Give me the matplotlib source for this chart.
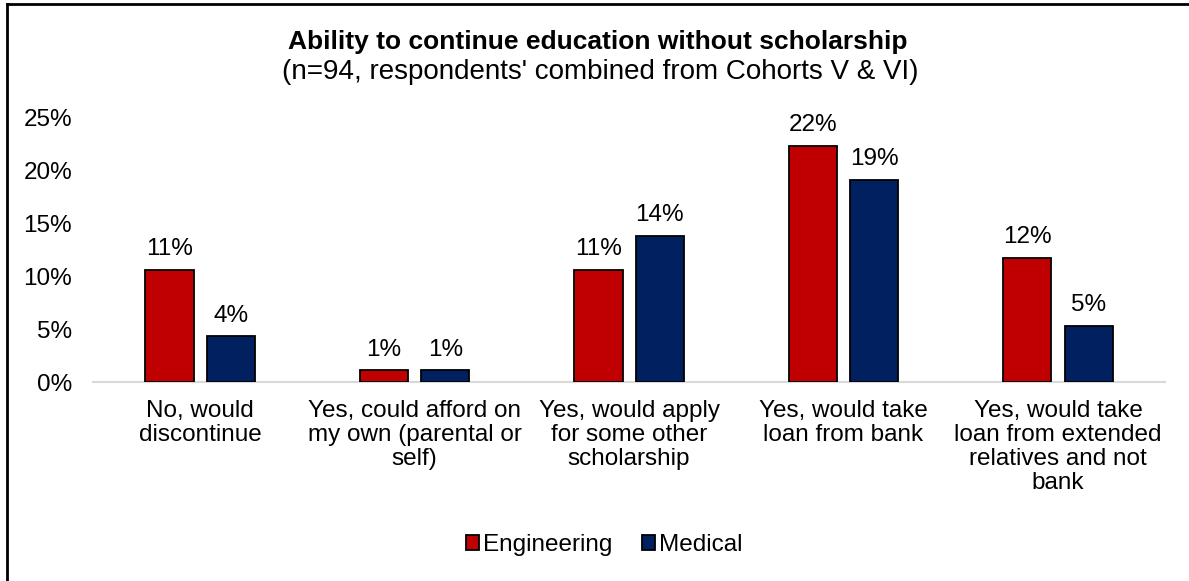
import numpy as np
import matplotlib
matplotlib.use("Agg")
import matplotlib.pyplot as plt
from matplotlib.lines import Line2D
from matplotlib.patches import Patch

plt.rcParams['font.family'] = ['Liberation Sans', 'DejaVu Sans']

# responses by stream, percent of respondents
categories = ["No, would\ndiscontinue",
              "Yes, could afford on\nmy own (parental or\nself)",
              "Yes, would apply\nfor some other\nscholarship",
              "Yes, would take\nloan from bank",
              "Yes, would take\nloan from extended\nrelatives and not\nbank"]
engineering = [10.6, 1.1, 10.6, 22.3, 11.7]
medical = [4.3, 1.1, 13.8, 19.1, 5.3]
series_names = ["Engineering", "Medical"]
colors = ["#C00000", "#002060"]

fig = plt.figure(figsize=(11.89, 5.81), dpi=100)
ax = fig.add_axes([0.0782, 0.3425, 0.9018, 0.456])

x = np.arange(len(categories))
w = 0.225
off = 0.143
for vals, dx, c in [(engineering, -off, colors[0]), (medical, off, colors[1])]:
    bars = ax.bar(x + dx, vals, w, color=c, edgecolor="black", linewidth=1.3, zorder=3)
    for b, v in zip(bars, vals):
        ax.annotate("{:.0f}%".format(v), (b.get_x() + b.get_width() / 2, v),
                    xytext=(0, 7), textcoords="offset points",
                    ha="center", va="bottom", fontsize=17.5)

ax.set_xlim(-0.5, len(categories) - 0.5)
ax.set_ylim(0, 25)
ax.set_yticks(range(0, 26, 5))
ax.set_yticklabels(["{}%".format(t) for t in range(0, 26, 5)], fontsize=17.5)
ax.set_xticks(x)
ax.set_xticklabels(categories, fontsize=17.5, linespacing=1.11, va="top")
ax.tick_params(axis="both", length=0)
ax.tick_params(axis="y", pad=15)
ax.tick_params(axis="x", pad=13)
for s in ["top", "right", "left"]:
    ax.spines[s].set_visible(False)
ax.spines["bottom"].set_color("#d9d9d9")
ax.spines["bottom"].set_linewidth(1.5)

fig.text(0.503, 0.928, "Ability to continue education without scholarship",
         ha="center", va="center", fontsize=19, fontweight="bold")
fig.text(0.505, 0.876, "(n=94, respondents' combined from Cohorts V & VI)",
         ha="center", va="center", fontsize=20)

handles = [Patch(facecolor=c, edgecolor="black", linewidth=1.3) for c in colors]
fig.legend(handles, series_names, loc="center", bbox_to_anchor=(0.508, 0.062),
           ncol=2, frameon=False, fontsize=17.5, handlelength=0.55, handleheight=0.55,
           handletextpad=0.15, columnspacing=1.2)

# outer frame on the top and left edges
fig.add_artist(Line2D([0.0055, 1.0], [0.9925, 0.9925], color="black", lw=2))
fig.add_artist(Line2D([0.0055, 0.0055], [0.0, 0.9925], color="black", lw=2))

fig.savefig("out.png", dpi=100, facecolor="white")
